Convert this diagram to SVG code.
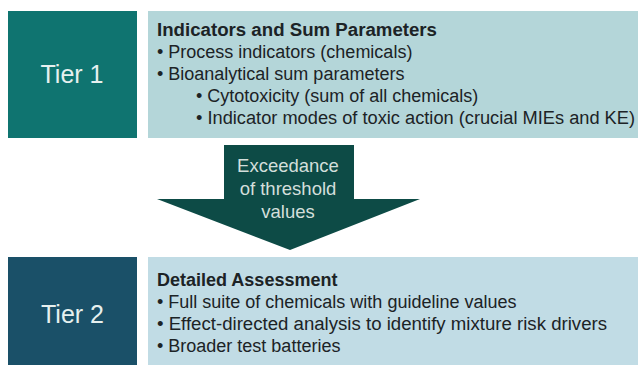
<svg xmlns="http://www.w3.org/2000/svg" width="640" height="365" viewBox="0 0 640 365">
<style>
.t{font-family:"Liberation Sans",Arial,sans-serif;fill:#1c2326;font-size:18px}
.b{font-weight:bold}
.tier{font-family:"Liberation Sans",Arial,sans-serif;fill:#e6f0ef;font-size:25px}
.arr{font-family:"Liberation Sans",Arial,sans-serif;fill:#d3dfdb;font-size:18.5px}
</style>
<rect width="640" height="365" fill="#ffffff"/>
<g id="tier1">
<rect x="8" y="11" width="129" height="127" fill="#0f7470"/>
<text class="tier" x="72" y="83" text-anchor="middle">Tier 1</text>
</g>
<g id="tier1-details">
<rect x="148" y="11" width="490" height="127" fill="#b4d6d9"/>
<text class="t b" x="157" y="36" textLength="280" lengthAdjust="spacingAndGlyphs">Indicators and Sum Parameters</text>
<text class="t" x="157" y="58">• Process indicators (chemicals)</text>
<text class="t" x="157" y="80">• Bioanalytical sum parameters</text>
<text class="t" x="196" y="102">• Cytotoxicity (sum of all chemicals)</text>
<text class="t" x="196" y="124" textLength="439" lengthAdjust="spacingAndGlyphs">• Indicator modes of toxic action (crucial MIEs and KE)</text>
</g>
<g id="connectors">
<g id="arrow">
<polygon points="224,145 354,145 354,199 420,199 290,250 157,199 224,199" fill="#0d4b46"/>
<text class="arr" x="288" y="172" text-anchor="middle">Exceedance</text>
<text class="arr" x="288" y="195" text-anchor="middle">of threshold</text>
<text class="arr" x="288" y="218" text-anchor="middle">values</text>
</g>
</g>
<g id="tier2">
<rect x="8" y="257" width="129" height="108" fill="#1a5068"/>
<text class="tier" x="72.5" y="323" text-anchor="middle">Tier 2</text>
</g>
<g id="tier2-details">
<rect x="148" y="257" width="490" height="108" fill="#c1dce5"/>
<text class="t b" x="157" y="286">Detailed Assessment</text>
<text class="t" x="157" y="308">• Full suite of chemicals with guideline values</text>
<text class="t" x="157" y="330" textLength="450" lengthAdjust="spacingAndGlyphs">• Effect-directed analysis to identify mixture risk drivers</text>
<text class="t" x="157" y="352">• Broader test batteries</text>
</g>
</svg>
